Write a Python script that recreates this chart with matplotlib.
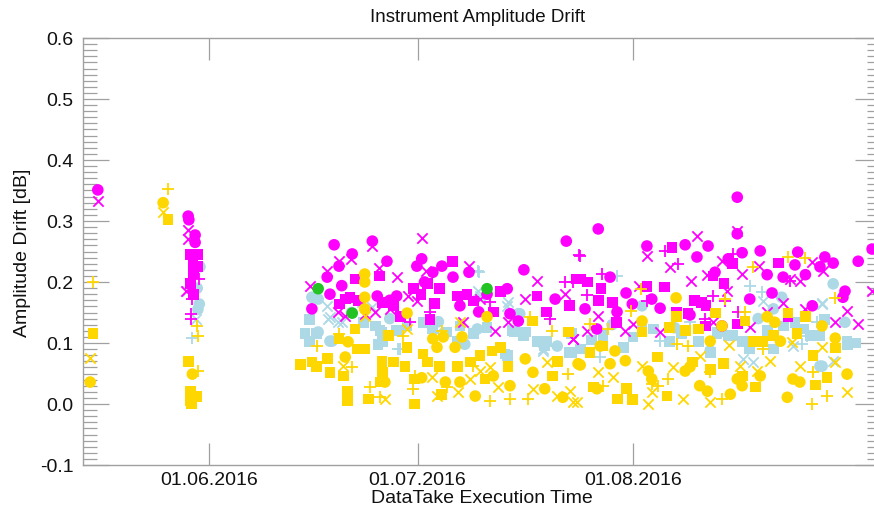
import numpy as np
import matplotlib
matplotlib.use("Agg")
import matplotlib.pyplot as plt
import matplotlib.dates as mdates
from matplotlib.ticker import MultipleLocator, FormatStrFormatter

plt.rcParams['font.family'] = ['Liberation Sans', 'DejaVu Sans']
plt.rcParams['axes.unicode_minus'] = False

# Day offsets below are counted from 01.06.2016
EPOCH = np.datetime64('2016-06-01T00:00')

# ---- magenta series ----
mag_circle = [(-16.0, 0.351), (-3.0, 0.308), (-2.9, 0.302), (-2.0, 0.277), (-2.0, 0.265),
              (18.0, 0.261), (23.5, 0.267), (20.6, 0.246), (25.6, 0.234), (18.7, 0.226),
              (17.0, 0.208), (29.9, 0.226), (30.6, 0.238), (33.5, 0.226), (32.2, 0.216),
              (37.4, 0.216), (45.3, 0.220), (51.4, 0.267), (17.4, 0.180), (14.8, 0.156),
              (19.1, 0.194), (27.0, 0.177), (35.1, 0.208), (42.9, 0.189), (43.3, 0.148),
              (44.5, 0.136), (38.8, 0.151), (49.8, 0.172), (36.1, 0.161), (24.2, 0.177),
              (56.0, 0.287), (76.0, 0.339), (76.0, 0.279), (63.0, 0.259), (68.5, 0.261),
              (71.8, 0.259), (70.2, 0.241), (76.7, 0.248), (79.3, 0.251), (84.7, 0.249),
              (74.7, 0.238), (84.3, 0.228), (88.6, 0.241), (89.8, 0.231), (93.4, 0.234),
              (95.4, 0.254), (72.8, 0.216), (80.3, 0.212), (82.6, 0.208), (85.8, 0.212),
              (87.9, 0.225), (57.7, 0.208), (60.0, 0.182), (63.7, 0.172), (64.9, 0.157),
              (60.9, 0.164), (54.1, 0.156), (58.7, 0.151), (77.8, 0.172), (81.0, 0.182),
              (86.8, 0.161), (91.5, 0.185), (91.2, 0.175), (69.2, 0.146), (73.8, 0.128),
              (55.8, 0.123), (26.0, 0.170), (31.0, 0.200), (40.0, 0.180)]
mag_square = [(-2.7, 0.245), (-1.6, 0.245), (-2.3, 0.230), (-2.2, 0.213), (-2.7, 0.197),
              (-2.2, 0.180), (-1.6, 0.225),
              (24.5, 0.210), (35.0, 0.234), (21.0, 0.205), (20.3, 0.175), (18.8, 0.164),
              (31.4, 0.197), (33.2, 0.189), (35.7, 0.177), (37.1, 0.180), (29.4, 0.189),
              (26.5, 0.161), (27.5, 0.144), (31.8, 0.139), (41.9, 0.184), (47.2, 0.177),
              (48.6, 0.151), (51.9, 0.161), (52.9, 0.205), (40.9, 0.151), (25.0, 0.167),
              (38.0, 0.169), (21.5, 0.170), (19.6, 0.172), (30.5, 0.180), (32.4, 0.165),
              (66.6, 0.256), (81.9, 0.231), (75.3, 0.230), (53.4, 0.205), (54.4, 0.200),
              (56.4, 0.189), (56.0, 0.170), (58.1, 0.167), (63.0, 0.193), (65.5, 0.192),
              (72.5, 0.210), (74.1, 0.197), (69.8, 0.170), (70.9, 0.167), (71.5, 0.161),
              (58.6, 0.134), (67.3, 0.151), (68.9, 0.148), (71.4, 0.128), (76.0, 0.131),
              (83.3, 0.143)]
mag_cross = [(-16.0, 0.333), (-3.0, 0.285), (-3.0, 0.270), (-3.3, 0.185),
             (30.6, 0.272), (23.5, 0.259), (18.7, 0.234), (17.0, 0.218), (20.4, 0.238),
             (27.0, 0.208), (37.4, 0.226), (24.5, 0.223), (14.5, 0.194), (18.6, 0.151),
             (23.9, 0.151), (28.6, 0.177), (31.2, 0.218), (29.9, 0.169), (39.0, 0.172),
             (45.5, 0.172), (47.2, 0.202), (51.2, 0.180), (41.2, 0.120), (43.0, 0.134),
             (52.4, 0.107), (36.5, 0.134), (22.4, 0.148), (19.5, 0.145), (26.0, 0.155),
             (63.0, 0.243), (70.2, 0.275), (76.0, 0.284), (66.3, 0.225), (69.4, 0.202),
             (71.7, 0.211), (74.5, 0.185), (76.7, 0.213), (73.8, 0.234), (79.1, 0.226),
             (83.6, 0.205), (85.0, 0.202), (86.8, 0.233), (88.3, 0.218), (61.9, 0.193),
             (56.0, 0.144), (54.4, 0.120), (52.4, 0.107), (59.9, 0.120), (64.9, 0.118),
             (72.5, 0.134), (77.8, 0.126), (80.3, 0.151), (82.6, 0.166), (85.8, 0.156),
             (90.1, 0.134), (91.8, 0.152), (93.4, 0.131), (61.0, 0.131), (95.4, 0.185)]
mag_plus = [(-2.5, 0.172), (-2.6, 0.148), (-2.6, 0.140), (-1.5, 0.205),
            (53.2, 0.244), (51.2, 0.200), (52.4, 0.200), (49.1, 0.139), (31.8, 0.151),
            (28.9, 0.134), (40.4, 0.167), (53.4, 0.243), (65.6, 0.251), (67.5, 0.230),
            (56.5, 0.213), (54.4, 0.179), (72.5, 0.177), (74.2, 0.169), (76.1, 0.151),
            (83.6, 0.202), (63.0, 0.169), (71.4, 0.139), (75.4, 0.246)]

# ---- light blue series ----
blue_circle = [(-1.3, 0.225), (-1.7, 0.190), (-1.4, 0.164), (-1.6, 0.155),
               (14.8, 0.175), (15.7, 0.172), (15.7, 0.118), (17.4, 0.103), (17.7, 0.103),
               (50.1, 0.095), (38.6, 0.123), (44.7, 0.148), (36.8, 0.098), (44.5, 0.148),
               (89.8, 0.197), (82.4, 0.175), (72.1, 0.087), (88.2, 0.062), (81.2, 0.156),
               (91.5, 0.134), (62.3, 0.161), (87.9, 0.062), (26.0, 0.140), (33.0, 0.135),
               (58.0, 0.130), (67.0, 0.125), (79.0, 0.140), (20.5, 0.150)]
blue_square = [(14.5, 0.139), (13.8, 0.115), (14.5, 0.102), (15.5, 0.115), (24.6, 0.120),
               (25.0, 0.102), (36.1, 0.128), (45.2, 0.112), (43.7, 0.120), (48.6, 0.103),
               (51.9, 0.085), (42.9, 0.079), (30.8, 0.134), (22.2, 0.134), (23.9, 0.128),
               (24.9, 0.118), (24.3, 0.098), (27.0, 0.120), (32.2, 0.123), (34.2, 0.118),
               (38.0, 0.115), (35.7, 0.102), (44.0, 0.118), (45.5, 0.118), (47.3, 0.102),
               (48.3, 0.095), (52.2, 0.085), (42.6, 0.082), (28.5, 0.128), (40.0, 0.125),
               (52.2, 0.115), (53.4, 0.090), (59.6, 0.093), (63.9, 0.123), (70.4, 0.103),
               (77.8, 0.090), (80.3, 0.120), (82.6, 0.128), (85.5, 0.123), (88.6, 0.139),
               (91.9, 0.098), (73.1, 0.115), (75.4, 0.112), (62.3, 0.128), (66.3, 0.103),
               (56.7, 0.112), (81.2, 0.090), (86.5, 0.112), (73.2, 0.118), (74.7, 0.112),
               (76.7, 0.102), (72.1, 0.085), (91.8, 0.102), (87.9, 0.112), (84.3, 0.134),
               (55.0, 0.105), (61.0, 0.110), (68.0, 0.115), (93.0, 0.100)]
blue_cross = [(-1.9, 0.140), (-3.2, 0.185),
              (17.0, 0.161), (17.4, 0.143), (19.1, 0.134), (39.0, 0.177), (42.9, 0.161),
              (48.1, 0.090), (32.8, 0.118), (17.1, 0.139), (18.6, 0.134), (22.0, 0.167),
              (23.5, 0.159), (38.7, 0.185), (48.1, 0.087), (43.0, 0.167),
              (76.8, 0.074), (78.3, 0.069), (88.2, 0.166), (84.0, 0.095), (79.7, 0.169),
              (88.2, 0.164), (89.8, 0.070)]
blue_plus = [(-2.4, 0.108), (38.8, 0.216), (27.2, 0.090), (27.5, 0.090), (38.7, 0.218),
             (58.7, 0.210), (77.8, 0.193), (79.6, 0.184), (56.3, 0.077), (64.9, 0.103),
             (69.2, 0.134), (87.5, 0.134), (86.0, 0.112), (85.3, 0.098)]

# ---- gold series ----
gold_circle = [(-17.1, 0.036), (-6.6, 0.330), (-2.4, 0.049),
               (22.4, 0.213), (22.4, 0.200), (22.4, 0.175), (22.4, 0.156), (28.5, 0.149),
               (40.0, 0.143), (32.2, 0.107), (33.7, 0.110), (36.4, 0.110), (20.0, 0.102),
               (19.6, 0.077), (32.8, 0.093), (35.4, 0.093), (25.3, 0.036), (30.6, 0.043),
               (34.0, 0.036), (36.1, 0.036), (38.3, 0.013), (40.9, 0.046), (43.3, 0.030),
               (45.5, 0.074), (46.6, 0.052), (48.3, 0.025), (50.9, 0.011), (53.1, 0.066),
               (67.2, 0.174), (62.3, 0.136), (73.8, 0.128), (80.3, 0.143), (81.4, 0.134),
               (88.2, 0.128), (90.1, 0.108), (72.1, 0.103), (82.2, 0.103), (53.4, 0.064),
               (57.7, 0.066), (59.9, 0.071), (63.2, 0.054), (63.7, 0.041), (68.5, 0.054),
               (69.2, 0.061), (76.0, 0.041), (76.7, 0.030), (70.6, 0.030), (71.7, 0.021),
               (75.0, 0.016), (79.3, 0.046), (84.0, 0.041), (85.0, 0.036), (83.2, 0.011),
               (91.8, 0.049), (55.8, 0.025), (56.3, 0.095), (58.4, 0.087)]
gold_square = [(-16.7, 0.115), (-5.9, 0.302), (-3.0, 0.070), (-2.7, 0.020), (-2.7, 0.005),
               (-1.8, 0.012), (-2.5, 0.000),
               (21.0, 0.123), (25.8, 0.112), (18.7, 0.107), (14.8, 0.069), (15.5, 0.061),
               (17.4, 0.052), (19.3, 0.046), (17.1, 0.074), (21.3, 0.090), (22.4, 0.090),
               (24.9, 0.070), (26.5, 0.069), (25.0, 0.052), (24.6, 0.036), (19.9, 0.020),
               (19.9, 0.005), (22.9, 0.008), (29.6, 0.000), (28.5, 0.093), (30.8, 0.082),
               (31.4, 0.069), (28.2, 0.062), (29.6, 0.041), (33.2, 0.061), (35.7, 0.062),
               (37.6, 0.069), (39.0, 0.079), (40.7, 0.087), (41.9, 0.093), (43.0, 0.061),
               (46.5, 0.136), (51.7, 0.118), (49.4, 0.046), (50.1, 0.070), (33.5, 0.016),
               (39.7, 0.041), (13.2, 0.065),
               (67.3, 0.143), (72.9, 0.149), (68.5, 0.120), (66.2, 0.125), (70.4, 0.123),
               (77.1, 0.136), (83.3, 0.149), (85.8, 0.143), (62.3, 0.118), (78.3, 0.103),
               (79.6, 0.102), (81.2, 0.112), (84.6, 0.115), (90.1, 0.092), (86.9, 0.079),
               (54.8, 0.085), (56.7, 0.095), (64.5, 0.077), (69.6, 0.069), (72.1, 0.057),
               (74.0, 0.066), (78.6, 0.028), (55.3, 0.028), (60.1, 0.025), (58.8, 0.008),
               (60.9, 0.007), (65.9, 0.013), (88.9, 0.043), (87.3, 0.031), (76.7, 0.046)]
gold_cross = [(-17.1, 0.075), (-6.6, 0.315),
              (39.0, 0.054), (40.4, 0.061), (32.1, 0.044), (35.8, 0.020), (32.8, 0.013),
              (37.6, 0.041), (41.6, 0.028), (46.6, 0.025), (51.9, 0.021), (52.4, 0.003),
              (50.1, 0.013), (48.6, 0.069), (19.3, 0.062), (25.3, 0.008), (28.5, 0.123),
              (36.1, 0.134), (22.4, 0.144), (62.3, 0.062), (66.8, 0.061), (70.6, 0.079),
              (74.8, 0.097), (56.0, 0.052), (58.1, 0.044), (63.7, 0.020), (63.2, 0.000),
              (68.2, 0.008), (72.1, 0.003), (85.0, 0.062), (80.7, 0.071), (88.2, 0.093),
              (90.1, 0.069), (91.8, 0.020), (52.9, 0.003), (76.4, 0.062), (78.8, 0.054),
              (83.9, 0.102)]
gold_plus = [(-16.7, 0.200), (-5.9, 0.352), (-1.7, 0.128), (-1.6, 0.112), (-1.6, 0.054),
             (15.5, 0.095), (20.6, 0.061), (18.7, 0.115), (23.2, 0.028), (24.6, 0.011),
             (29.6, 0.046), (29.4, 0.025), (33.5, 0.120), (27.9, 0.112), (34.2, 0.028),
             (40.4, 0.005), (43.3, 0.008), (45.9, 0.008), (51.7, 0.049), (38.0, 0.062),
             (49.4, 0.120), (46.2, 0.143), (83.3, 0.241), (85.8, 0.239), (78.3, 0.225),
             (74.2, 0.172), (62.2, 0.189), (60.7, 0.152), (54.8, 0.131), (57.4, 0.123),
             (77.1, 0.151), (90.1, 0.174), (68.9, 0.095), (67.3, 0.098), (72.1, 0.052),
             (66.0, 0.041), (63.7, 0.033), (64.6, 0.030), (56.7, 0.030), (79.7, 0.090),
             (86.9, 0.052), (86.8, 0.000), (88.9, 0.013), (73.8, 0.008)]

# ---- green series ----
green_circle = [(15.7, 0.189), (20.6, 0.149), (40.0, 0.189)]

MAGENTA = '#ff00ff'
LIGHTBLUE = '#add8e6'
GOLD = '#ffd700'
GREEN = '#22c322'


def to_dates(points):
    days = np.array([p[0] for p in points])
    vals = np.array([p[1] for p in points])
    dates = EPOCH + (days * 86400).astype('timedelta64[s]')
    return dates, vals


fig = plt.figure(figsize=(8.74, 5.10), dpi=100)
ax = fig.add_axes([83 / 874, 44 / 510, (881 - 83) / 874, (466 - 39) / 510])


def draw(points, color, marker, size, z):
    d, v = to_dates(points)
    if marker in ('x', '+'):
        ax.scatter(d, v, s=size, marker=marker, color=color, linewidths=1.3, zorder=z)
    else:
        ax.scatter(d, v, s=size, marker=marker, color=color, edgecolors='none', zorder=z)


for pts, mk, sz in ((blue_square, 's', 60), (blue_circle, 'o', 70),
                    (blue_cross, 'x', 55), (blue_plus, '+', 75)):
    draw(pts, LIGHTBLUE, mk, sz, 2)
for pts, mk, sz in ((mag_square, 's', 60), (mag_circle, 'o', 70),
                    (mag_cross, 'x', 55), (mag_plus, '+', 75)):
    draw(pts, MAGENTA, mk, sz, 3)
for pts, mk, sz in ((gold_square, 's', 60), (gold_circle, 'o', 70),
                    (gold_cross, 'x', 55), (gold_plus, '+', 75)):
    draw(pts, GOLD, mk, sz, 4)
draw(green_circle, GREEN, 'o', 70, 5)

# Axis ranges: mid-May to early September
xmin = EPOCH - np.timedelta64(int(18.13 * 86400), 's')
xmax = EPOCH + np.timedelta64(int((61 + 35.68) * 86400), 's')
ax.set_xlim(xmin, xmax)
ax.set_ylim(-0.1, 0.6)

ax.xaxis.set_major_locator(mdates.MonthLocator(bymonth=[6, 7, 8]))
ax.xaxis.set_major_formatter(mdates.DateFormatter('%d.%m.%Y'))
ax.yaxis.set_major_locator(MultipleLocator(0.1))
ax.yaxis.set_minor_locator(MultipleLocator(0.01))
ax.yaxis.set_major_formatter(FormatStrFormatter('%.1f'))

frame_col = '#a0a0a0'
for sp in ax.spines.values():
    sp.set_color(frame_col)
    sp.set_linewidth(1.0)

ax.tick_params(axis='x', which='major', direction='in', length=16, width=0.9,
               color=frame_col, top=True, bottom=True, labelsize=14,
               labelcolor='#111111', pad=4)
ax.tick_params(axis='y', which='major', direction='in', length=19, width=0.9,
               color=frame_col, left=True, right=True, labelsize=14,
               labelcolor='#111111', pad=7)
ax.tick_params(axis='y', which='minor', direction='in', length=10, width=0.9,
               color=frame_col, left=True, right=True)

fig.text(0.5469, 1 - 17 / 510, 'Instrument Amplitude Drift', ha='center', va='center',
         fontsize=13.5, color='#111111')
ax.set_xlabel('DataTake Execution Time', fontsize=14, color='#111111', va='center')
ax.xaxis.set_label_coords(0.5, -0.077)
ax.set_ylabel('Amplitude Drift [dB]', fontsize=14, color='#111111', labelpad=6)

fig.savefig('out.png', dpi=100)
